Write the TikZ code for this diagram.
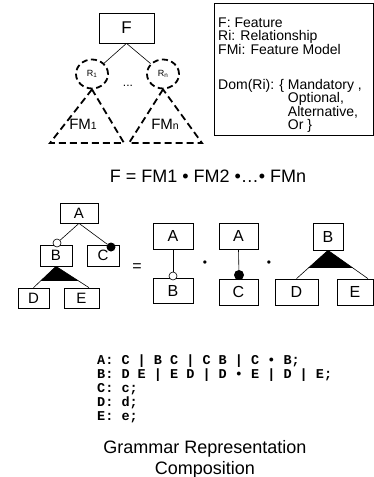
\documentclass[tikz,border=0pt]{standalone}
\usepackage{fontspec}
\setmainfont{Liberation Sans}
\setmonofont{Liberation Mono}
\usetikzlibrary{shapes.geometric,calc}

\newcommand{\idx}[1]{\raisebox{-0.5pt}{\scalebox{0.7}{#1}}}

\begin{document}
\begin{tikzpicture}[x=1pt, y=-1pt,
    box/.style={rectangle, draw, line width=0.7pt, inner sep=0pt,
                font=\fontsize{15}{15}\selectfont},
    rel/.style={ellipse, draw, line width=1.8pt, dash pattern=on 6pt off 3.5pt,
                minimum width=32pt, minimum height=29pt, inner sep=0pt,
                font=\fontsize{9}{9}\selectfont},
    fmline/.style={line width=1.8pt, dash pattern=on 7pt off 4pt},
    link/.style={line width=0.6pt},
    optc/.style={circle, draw, fill=white, line width=0.6pt, minimum size=8pt, inner sep=0pt},
    mandc/.style={circle, fill=black, minimum size=9pt, inner sep=0pt},
    op/.style={inner sep=0pt, font=\fontsize{12}{12}\selectfont}
]
\useasboundingbox (0,0) rectangle (374,477);

% Feature model
\node[box, minimum width=55pt, minimum height=30pt, font=\fontsize{17}{17}\selectfont] (F) at (126.5,28) {F};
\node[rel] (R1) at (92,74) {R\idx{1}};
\node[rel] (Rn) at (163,74) {R\idx{n}};
\node[op] (dots) at (128,86) {...};
\draw[link] (F.south) -- (R1);
\draw[link] (F.south) -- (Rn);

% Sub models
\coordinate (fm1l) at (50,143);
\coordinate (fm1r) at (124,143);
\coordinate (fmnl) at (129,143);
\coordinate (fmnr) at (202,143);
\draw[fmline] (R1.south) -- (fm1l) -- (fm1r) -- cycle;
\draw[fmline] (Rn.south) -- (fmnl) -- (fmnr) -- cycle;
\node[anchor=base, font=\fontsize{15}{15}\selectfont] (fm1) at (83,129) {FM\idx{1}};
\node[anchor=base, font=\fontsize{15}{15}\selectfont] (fmn) at (165,129) {FM\idx{n}};

% Legend
\draw[line width=0.8pt] (214,3) rectangle (373,135);
\node[anchor=north west, inner sep=0pt, align=left, font=\fontsize{14}{13.6}\selectfont] (legend) at (218,17.5)
    {F: Feature\\ Ri: Relationship\\ FMi: Feature Model\\[21pt]
     Dom(Ri): \{ Mandatory ,\\ \phantom{Dom(Ri): \{ }Optional,\\
     \phantom{Dom(Ri): \{ }Alternative,\\ \phantom{Dom(Ri): \{ }Or \}};

% Composition
\node[anchor=base, inner sep=0pt, font=\fontsize{18}{18}\selectfont] (eq) at (208,182) {F = FM1 • FM2 •…• FMn};

% Example tree
\node[box, minimum width=38pt, minimum height=20pt] (A) at (79,213) {A};
\node[box, minimum width=32pt, minimum height=21pt] (B) at (56,255.5) {B};
\node[box, minimum width=32pt, minimum height=21pt] (C) at (103,255.5) {C};
\node[box, minimum width=31pt, minimum height=20pt] (D) at (33.5,298) {D};
\node[box, minimum width=35pt, minimum height=20pt] (E) at (81.5,298) {E};
\node[optc] (oB) at (57,243) {};
\node[mandc] (mC) at (111,247) {};
\draw[link] (A.south) -- (oB);
\draw[link] (A.south) -- (mC);
\coordinate (Etop) at ($(E.north)+(7.5,0)$);
\draw[link] (B.south) -- (D.north);
\draw[link] (B.south) -- (Etop);
\fill (B.south) -- ($(B.south)!0.68!(D.north)$) -- ($(B.south)!0.68!(Etop)$) -- cycle;

\node[op, font=\fontsize{16}{16}\selectfont] (eqsign) at (137,267.5) {=};

% Optional part
\node[box, minimum width=40pt, minimum height=26pt, font=\fontsize{16}{16}\selectfont] (A2) at (173,236) {A};
\node[box, minimum width=40pt, minimum height=25pt, font=\fontsize{16}{16}\selectfont] (B2) at (173,290.5) {B};
\node[optc] (oB2) at (173,276) {};
\draw[link] (A2.south) -- (oB2);

\node[op] (dot1) at (205,264) {•};

% Mandatory part
\node[box, minimum width=39pt, minimum height=26pt, font=\fontsize{16}{16}\selectfont] (A3) at (238.5,236) {A};
\node[box, minimum width=39pt, minimum height=26pt, font=\fontsize{16}{16}\selectfont] (C3) at (238.5,292) {C};
\node[mandc, minimum size=10pt] (mC3) at (239,275) {};
\draw[link] (A3.south) -- (mC3);

\node[op] (dot2) at (269,264) {•};

% Alternative part
\node[box, minimum width=30pt, minimum height=27pt, font=\fontsize{16}{16}\selectfont] (B3) at (328,236.5) {B};
\node[box, minimum width=43pt, minimum height=26pt, font=\fontsize{16}{16}\selectfont] (D3) at (296.5,292) {D};
\node[box, minimum width=36pt, minimum height=26pt, font=\fontsize{16}{16}\selectfont] (E3) at (355,292) {E};
\coordinate (E3top) at ($(E3.north)+(13,0)$);
\draw[link] (B3.south) -- (D3.north);
\draw[link] (B3.south) -- (E3top);
\fill (B3.south) -- ($(B3.south)!0.62!(D3.north)$) -- ($(B3.south)!0.62!(E3top)$) -- cycle;

% Grammar
\node[anchor=north west, inner sep=0pt, align=left, font=\ttfamily\bfseries\fontsize{13.5}{13.8}\selectfont] (gram) at (97,355)
    {A: C | B C | C B | C • B;\\ B: D E | E D | D • E | D | E;\\ C: c;\\ D: d;\\ E: e;};
\node[anchor=north, inner sep=0pt, align=center, font=\fontsize{18}{21}\selectfont] (title) at (205,440)
    {Grammar Representation\\ Composition};

\end{tikzpicture}
\end{document}
